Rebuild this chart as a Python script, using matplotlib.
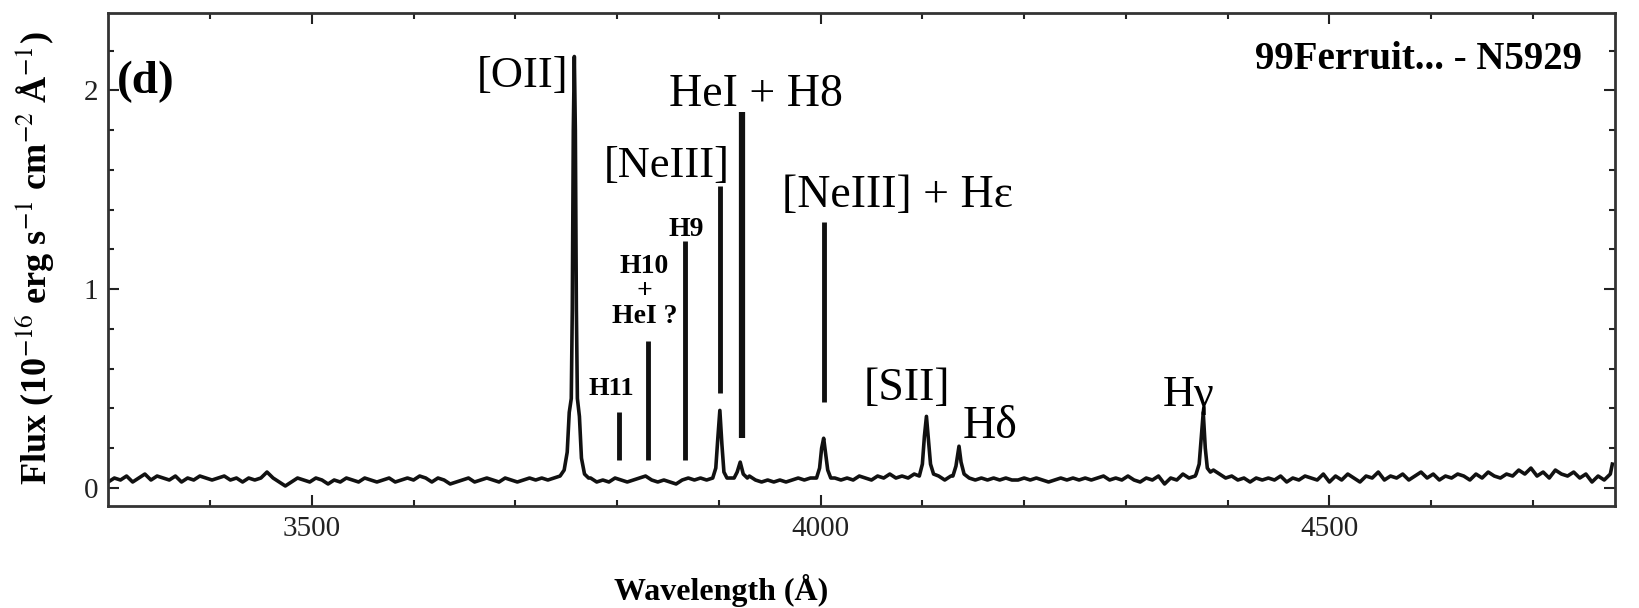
import numpy as np
import matplotlib
matplotlib.use("Agg")
import matplotlib.pyplot as plt

plt.rcParams['font.family'] = ['Liberation Serif', 'DejaVu Serif']
plt.rcParams['mathtext.fontset'] = 'stix'

# continuum, sampled every 6 A from 3300 to 4776 A
cont_wave = np.arange(3300, 4777, 6)
cont_flux = [
    0.03, 0.05, 0.04, 0.06, 0.03, 0.05, 0.07, 0.04, 0.06, 0.05,
    0.04, 0.06, 0.03, 0.05, 0.04, 0.06, 0.05, 0.04, 0.05, 0.06,
    0.04, 0.05, 0.03, 0.05, 0.04, 0.05, 0.08, 0.05, 0.03, 0.01,
    0.03, 0.05, 0.04, 0.03, 0.05, 0.04, 0.02, 0.04, 0.03, 0.05,
    0.04, 0.03, 0.05, 0.04, 0.03, 0.04, 0.05, 0.03, 0.04, 0.05,
    0.04, 0.06, 0.05, 0.03, 0.05, 0.04, 0.02, 0.03, 0.04, 0.05,
    0.03, 0.04, 0.05, 0.04, 0.03, 0.05, 0.04, 0.03, 0.04, 0.05,
    0.04, 0.05, 0.04, 0.05, 0.06, 0.06, 0.06, 0.05, 0.04, 0.05,
    0.03, 0.04, 0.03, 0.05, 0.04, 0.03, 0.04, 0.05, 0.06, 0.04,
    0.03, 0.04, 0.03, 0.02, 0.04, 0.05, 0.04, 0.05, 0.04, 0.05,
    0.05, 0.08, 0.05, 0.07, 0.05, 0.06, 0.04, 0.03, 0.04, 0.03,
    0.04, 0.03, 0.04, 0.05, 0.04, 0.05, 0.05, 0.05, 0.05, 0.05,
    0.04, 0.05, 0.04, 0.06, 0.05, 0.04, 0.06, 0.05, 0.07, 0.05,
    0.06, 0.05, 0.07, 0.06, 0.06, 0.06, 0.06, 0.04, 0.06, 0.06,
    0.07, 0.05, 0.04, 0.05, 0.04, 0.05, 0.04, 0.05, 0.04, 0.04,
    0.05, 0.04, 0.05, 0.04, 0.03, 0.04, 0.05, 0.04, 0.05, 0.04,
    0.05, 0.04, 0.05, 0.06, 0.04, 0.05, 0.04, 0.06, 0.04, 0.03,
    0.05, 0.04, 0.06, 0.02, 0.05, 0.04, 0.07, 0.05, 0.06, 0.06,
    0.08, 0.09, 0.07, 0.05, 0.06, 0.04, 0.05, 0.03, 0.05, 0.04,
    0.05, 0.04, 0.06, 0.03, 0.05, 0.04, 0.06, 0.05, 0.04, 0.07,
    0.03, 0.06, 0.04, 0.07, 0.05, 0.03, 0.06, 0.05, 0.08, 0.04,
    0.06, 0.05, 0.07, 0.04, 0.06, 0.08, 0.05, 0.07, 0.04, 0.06,
    0.05, 0.07, 0.06, 0.04, 0.07, 0.05, 0.08, 0.06, 0.05, 0.07,
    0.06, 0.09, 0.07, 0.10, 0.06, 0.08, 0.05, 0.09, 0.07, 0.06,
    0.08, 0.05, 0.07, 0.03, 0.06, 0.04, 0.07,
]

# emission line profiles (observed wavelength, flux)
oii_wave = [3744, 3748, 3751, 3753, 3755, 3756, 3757, 3758, 3759, 3760, 3761, 3763, 3765, 3768, 3772]
oii_flux = [0.06, 0.09, 0.18, 0.38, 0.45, 0.90, 1.80, 2.17, 1.80, 0.90, 0.45, 0.36, 0.15, 0.07, 0.05]
neiii_wave = [3894, 3897, 3899, 3901, 3903, 3905, 3908]
neiii_flux = [0.05, 0.10, 0.25, 0.39, 0.22, 0.08, 0.05]
h8_wave = [3915, 3918, 3921, 3924, 3928]
h8_flux = [0.05, 0.08, 0.13, 0.07, 0.05]
heps_wave = [3996, 3999, 4001, 4003, 4005, 4007, 4010]
heps_flux = [0.05, 0.10, 0.20, 0.25, 0.17, 0.09, 0.05]
sii_wave = [4097, 4100, 4102, 4104, 4106, 4108, 4111]
sii_flux = [0.06, 0.12, 0.26, 0.36, 0.24, 0.12, 0.07]
hdel_wave = [4130, 4133, 4136, 4138, 4141]
hdel_flux = [0.06, 0.11, 0.21, 0.13, 0.07]
hgam_wave = [4369, 4372, 4374, 4376, 4378, 4380, 4383]
hgam_flux = [0.07, 0.12, 0.25, 0.38, 0.20, 0.10, 0.08]
end_wave = [4778]
end_flux = [0.12]

# line identification bars
bar_wave = [3802, 3830, 3867, 3901, 3923, 4003]
bar_bottom = [0.14, 0.14, 0.14, 0.48, 0.25, 0.43]
bar_top = [0.38, 0.74, 1.24, 1.52, 1.89, 1.34]
bar_width = [3.5, 3.5, 3.5, 3.5, 4.5, 3.5]

wave = np.array(cont_wave, dtype=float)
flux = np.array(cont_flux, dtype=float)
for w, f in [(oii_wave, oii_flux), (neiii_wave, neiii_flux), (h8_wave, h8_flux),
             (heps_wave, heps_flux), (sii_wave, sii_flux), (hdel_wave, hdel_flux),
             (hgam_wave, hgam_flux), (end_wave, end_flux)]:
    keep = (wave < min(w)) | (wave > max(w))
    wave = np.concatenate([wave[keep], w])
    flux = np.concatenate([flux[keep], f])
order = np.argsort(wave)
wave, flux = wave[order], flux[order]

fig = plt.figure(figsize=(16.4, 6.08), dpi=100)
ax = fig.add_axes([0.066, 0.168, 0.919, 0.811])

ax.plot(wave, flux, color='#111111', lw=2.6)
ax.vlines(bar_wave, bar_bottom, bar_top, color='#111111', lw=bar_width)

ax.set_xlim(3300, 4781)
ax.set_ylim(-0.09, 2.39)
ax.set_xticks([3500, 4000, 4500])
ax.set_xticks(np.arange(3400, 4800, 100), minor=True)
ax.set_yticks([0, 1, 2])
ax.set_yticks(np.arange(0, 2.4, 0.2), minor=True)
ax.tick_params(which='both', direction='in', top=True, right=True,
               colors='#222222', labelsize=21, width=1.5)
ax.tick_params(which='major', length=8, pad=7)
ax.tick_params(which='minor', length=4)
for s in ax.spines.values():
    s.set_linewidth(2.0)
    s.set_color('#333333')

fig.text(0.44, 0.028, 'Wavelength (Å)', fontsize=23, fontweight='bold',
         ha='center', va='center')
fig.text(0.021, 0.575, r'Flux (10$^{-16}$ erg s$^{-1}$ cm$^{-2}$ Å$^{-1}$)',
         fontsize=26, fontweight='bold', rotation=90, ha='center', va='center')

big = 32
small = 20
ax.text(3752, 2.07, '[OII]', fontsize=big, ha='right', va='center')
ax.text(3936, 1.98, 'HeI + H8', fontsize=33, ha='center', va='center')
ax.text(3849, 1.62, '[NeIII]', fontsize=big, ha='center', va='center')
ax.text(4076, 1.47, '[NeIII] + Hε', fontsize=33, ha='center', va='center')
ax.text(4085, 0.50, '[SII]', fontsize=33, ha='center', va='center')
ax.text(4167, 0.31, 'Hδ', fontsize=33, ha='center', va='center')
ax.text(4362, 0.47, 'Hγ', fontsize=big, ha='center', va='center')
ax.text(3868, 1.30, 'H9', fontsize=small, fontweight='bold', ha='center', va='center')
ax.text(3827, 0.99, 'H10\n+\nHeI ?', fontsize=small, fontweight='bold',
        ha='center', va='center', linespacing=1.0)
ax.text(3794, 0.50, 'H11', fontsize=19, fontweight='bold', ha='center', va='center')

ax.text(0.006, 0.86, '(d)', transform=ax.transAxes, fontsize=34,
        fontweight='bold', ha='left', va='center')
ax.text(0.978, 0.905, '99Ferruit... - N5929', transform=ax.transAxes,
        fontsize=28, fontweight='bold', ha='right', va='center')

fig.savefig('out.png', dpi=100)
